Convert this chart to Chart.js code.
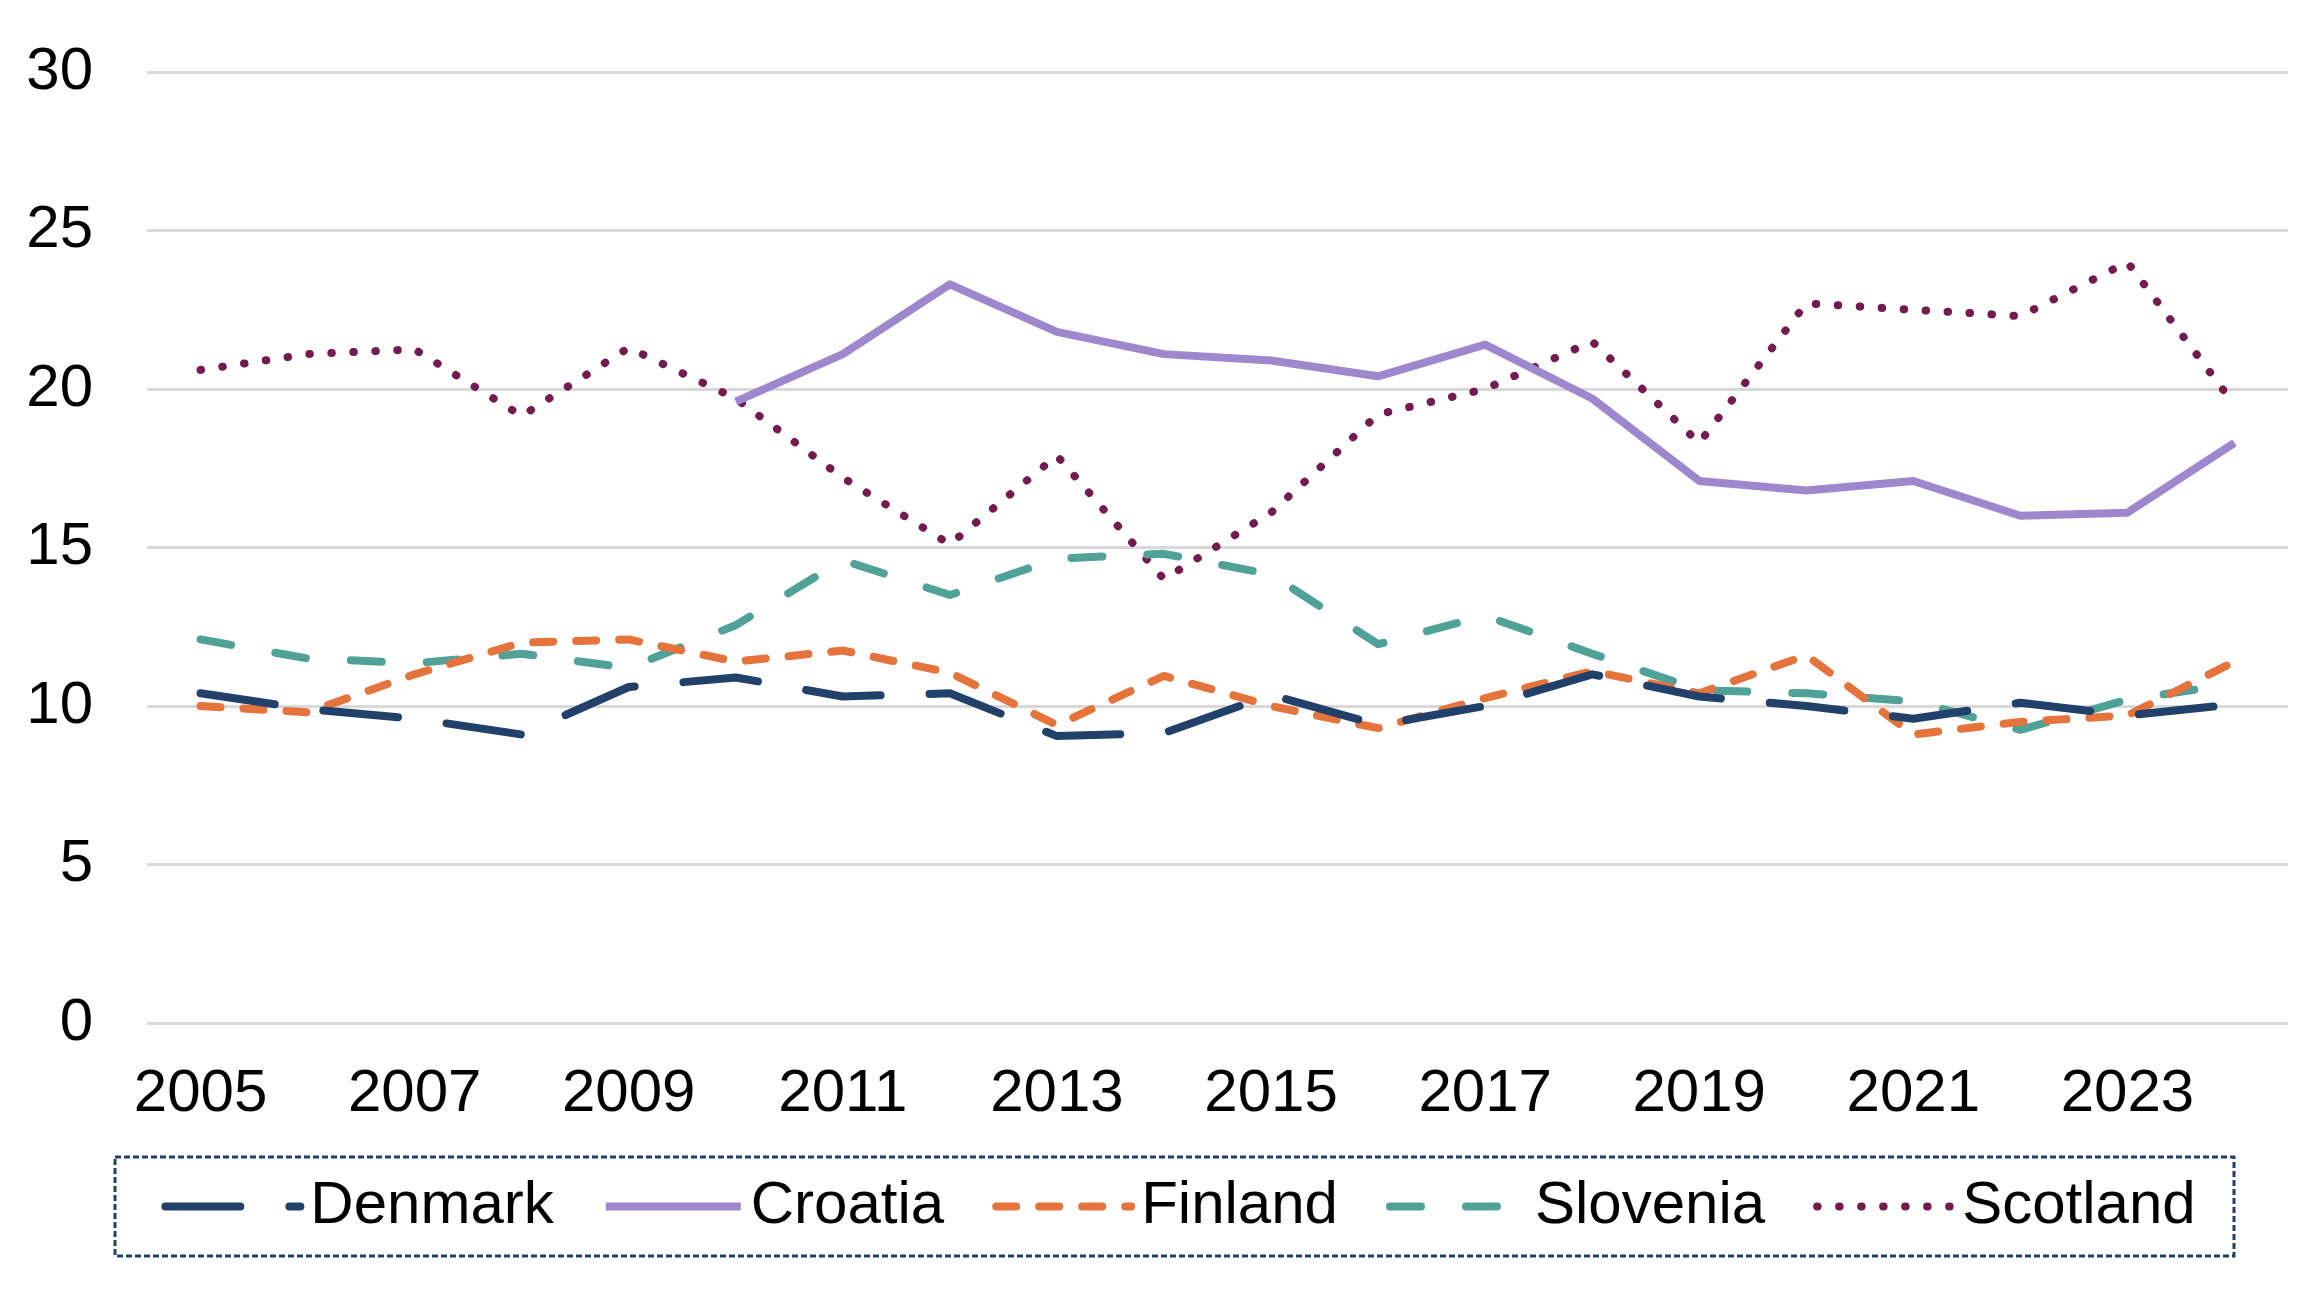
<!DOCTYPE html>
<html>
<head>
<meta charset="utf-8">
<script src="https://cdn.jsdelivr.net/npm/chart.js@4.4.1/dist/chart.umd.min.js"></script>
<style>
  html, body { margin: 0; padding: 0; background: #fff; }
  canvas { display: block; }
</style>
</head>
<body>
<canvas id="chart" width="2322" height="1296"></canvas>
<script>
// Data
const years = ['2005', '2006', '2007', '2008', '2009', '2010', '2011', '2012', '2013', '2014',
               '2015', '2016', '2017', '2018', '2019', '2020', '2021', '2022', '2023', '2024'];
const denmark  = [10.4, 9.9, 9.6, 9.1, 10.6, 10.9, 10.3, 10.4, 9.05, 9.15,
                  10.35, 9.4, 10.0, 11.0, 10.3, 10.0, 9.6, 10.1, 9.7, 10.05];
const croatia  = [null, null, null, null, null, 19.6, 21.1, 23.3, 21.8, 21.1,
                  20.9, 20.4, 21.4, 19.7, 17.1, 16.8, 17.1, 16.0, 16.1, 18.3];
const finland  = [10.0, 9.8, 11.0, 12.0, 12.1, 11.4, 11.75, 11.05, 9.4, 10.95,
                  10.0, 9.3, 10.25, 11.1, 10.4, 11.6, 9.1, 9.5, 9.7, 11.4];
const slovenia = [12.1, 11.5, 11.35, 11.65, 11.2, 12.55, 14.6, 13.5, 14.65, 14.8,
                  14.15, 11.95, 12.85, 11.65, 10.5, 10.4, 10.15, 9.25, 10.2, 10.7];
const scotland = [20.6, 21.1, 21.25, 19.15, 21.3, 19.7, 17.2, 15.1, 17.9, 14.0,
                  16.1, 19.2, 20.0, 21.5, 18.3, 22.7, 22.5, 22.3, 24.0, 19.5];
const yTicks = [0, 5, 10, 15, 20, 25, 30];

const FONT = '"Liberation Sans", Arial, Helvetica, sans-serif';

// Legend drawn inside a dashed box under the plot
const boxLegend = {
    id: 'boxLegend',
    afterDraw(chart) {
        const ctx = chart.ctx;
        const box = { left: 115, top: 1157, right: 2234, bottom: 1256 };
        ctx.save();
        ctx.strokeStyle = '#203F6B';
        ctx.lineWidth = 3;
        ctx.setLineDash([6, 3]);
        ctx.strokeRect(box.left, box.top, box.right - box.left, box.bottom - box.top);

        ctx.font = '60px ' + FONT;
        const sampleLen = 135, textGap = 10, itemGap = 52;
        const sets = chart.data.datasets;
        let total = 0;
        sets.forEach((ds, i) => {
            total += sampleLen + textGap + ctx.measureText(ds.label).width;
            if (i < sets.length - 1) total += itemGap;
        });
        let x = (box.left + box.right) / 2 - total / 2 + 6;
        const cy = (box.top + box.bottom) / 2;
        sets.forEach(ds => {
            ctx.beginPath();
            ctx.strokeStyle = ds.borderColor;
            ctx.lineWidth = ds.borderWidth;
            ctx.lineCap = ds.borderCapStyle || 'butt';
            ctx.setLineDash(ds.borderDash || []);
            ctx.moveTo(x, cy);
            ctx.lineTo(x + sampleLen, cy);
            ctx.stroke();
            x += sampleLen + textGap;
            ctx.setLineDash([]);
            ctx.fillStyle = '#000';
            ctx.textBaseline = 'middle';
            ctx.textAlign = 'left';
            ctx.fillText(ds.label, x, cy);
            x += ctx.measureText(ds.label).width + itemGap;
        });
        ctx.restore();
    }
};

function series(label, data, color, dash, cap) {
    return {
        label: label,
        data: data,
        borderColor: color,
        backgroundColor: color,
        borderWidth: 8,
        borderDash: dash,
        borderCapStyle: cap,
        borderJoinStyle: 'round',
        pointRadius: 0,
        tension: 0,
        fill: false,
        spanGaps: false
    };
}

new Chart(document.getElementById('chart'), {
    type: 'line',
    data: {
        labels: years,
        datasets: [
            series('Denmark', denmark, '#21406A', [75, 49], 'round'),
            series('Croatia', croatia, '#9E87CC', [], 'butt'),
            series('Finland', finland, '#E4733C', [20, 23], 'round'),
            series('Slovenia', slovenia, '#50A197', [31, 45], 'round'),
            series('Scotland', scotland, '#731A4F', [0.5, 21.5], 'round')
        ]
    },
    options: {
        responsive: false,
        devicePixelRatio: 1,
        animation: false,
        events: [],
        layout: { padding: { top: 72, right: 34, left: 0, bottom: 0 } },
        plugins: {
            legend: { display: false },
            tooltip: { enabled: false }
        },
        scales: {
            x: {
                offset: true,
                grid: { display: false, drawTicks: false },
                border: { display: false },
                ticks: {
                    autoSkip: false,
                    maxRotation: 0,
                    padding: 35,
                    color: '#000',
                    font: { family: FONT, size: 60 },
                    callback: function(value, index) {
                        return index % 2 === 0 ? years[index] : '';
                    }
                },
                afterFit: function(scale) {
                    scale.height = 273;
                    scale.paddingLeft = 0;
                    scale.paddingRight = 0;
                }
            },
            y: {
                min: yTicks[0],
                max: yTicks[yTicks.length - 1],
                grid: { color: '#D9D9D9', lineWidth: 3, drawTicks: false },
                border: { display: false },
                afterBuildTicks: function(scale) {
                    scale.ticks = yTicks.map(v => ({ value: v }));
                },
                ticks: {
                    padding: 54,
                    color: '#000',
                    font: { family: FONT, size: 60 }
                },
                afterFit: function(scale) {
                    scale.width = 147;
                    scale.paddingTop = 0;
                    scale.paddingBottom = 0;
                }
            }
        }
    },
    plugins: [boxLegend]
});
</script>
</body>
</html>
